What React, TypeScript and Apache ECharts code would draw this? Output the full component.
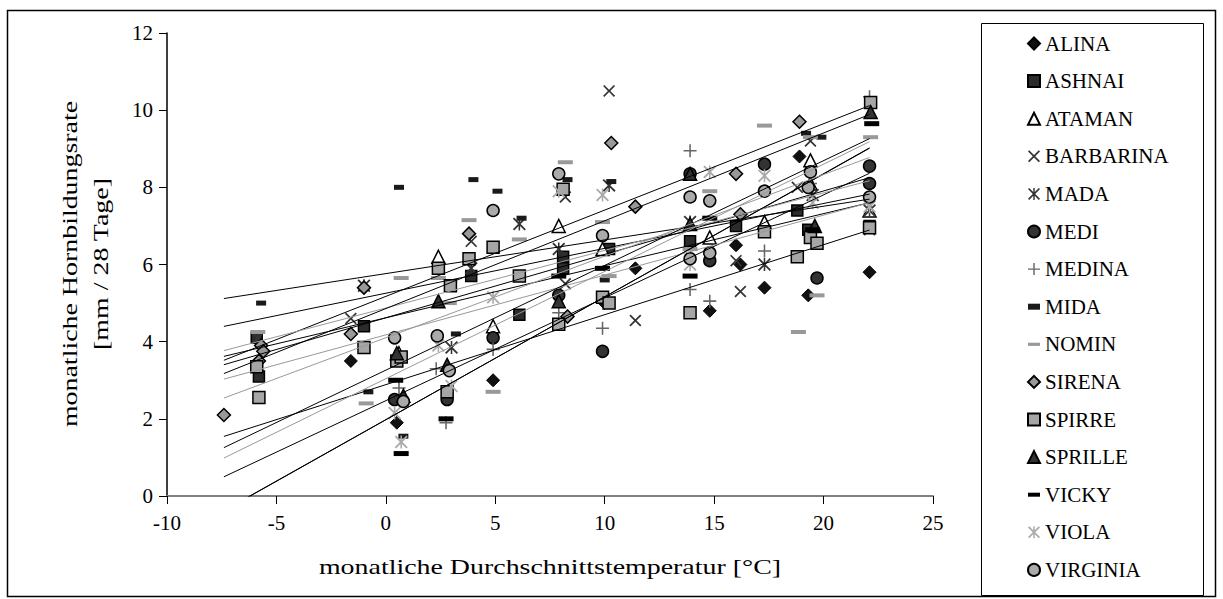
import React, { useEffect, useRef } from "react";
import * as echarts from "echarts";

// ---- data: [monthly mean temperature °C, horn growth rate mm / 28 days]
const ALINA = [[-1.6,3.5],[0.5,1.9],[4.9,3.0],[10.0,5.0],[11.4,5.9],[14.8,4.8],[16.0,6.5],[16.2,6.0],[17.3,5.4],[18.9,8.8],[19.3,5.2],[22.1,5.8]];
const ASHNAI = [[-5.9,4.1],[-5.8,3.1],[-1.0,4.4],[3.9,5.7],[6.1,4.7],[8.1,6.2],[8.1,5.9],[10.2,6.4],[13.9,6.6],[16.0,7.0],[18.8,7.4],[19.3,6.9],[22.1,7.0]];
const ATAMAN = [[0.6,3.7],[2.4,6.2],[4.9,4.4],[7.9,7.0],[9.9,6.4],[14.8,6.7],[17.3,7.1],[19.4,8.7],[19.4,8.1],[22.1,7.4]];
const BARBARINA = [[-1.6,4.6],[3.9,6.6],[8.2,7.75],[8.2,5.5],[10.2,10.5],[11.4,4.55],[16.0,6.1],[16.2,5.3],[18.8,8.0],[19.4,9.2],[22.1,6.9]];
const MADA = [[-5.85,4.1],[-1.0,5.45],[3.0,3.85],[3.9,5.9],[6.1,7.05],[7.9,6.4],[10.2,8.05],[13.9,7.1],[17.3,6.0],[19.5,7.8],[22.1,7.4]];
const MEDI = [[0.4,2.5],[2.8,2.5],[4.9,4.1],[7.9,5.2],[9.9,3.75],[13.9,8.35],[14.8,6.1],[17.3,8.6],[19.7,5.65],[22.1,8.55],[22.1,8.1]];
const MEDINA = [[0.6,2.8],[2.3,3.3],[2.75,1.9],[4.9,3.8],[7.9,4.75],[9.9,4.35],[13.9,8.95],[13.9,5.35],[14.8,5.05],[17.3,6.35],[19.4,8.1],[22.1,10.35]];
const MIDA = [[-5.7,5.0],[-0.8,2.7],[0.6,8.0],[0.8,1.55],[3.2,4.2],[4.0,8.2],[5.1,7.9],[6.2,7.2],[8.3,8.2],[10.3,8.15],[10.0,5.6],[19.2,9.4],[19.9,9.3]];
const NOMIN = [[-5.85,4.25],[-0.9,2.4],[0.7,5.65],[2.4,5.65],[2.9,5.0],[3.8,7.15],[4.9,2.7],[6.1,6.65],[8.2,8.65],[9.9,7.1],[10.2,5.7],[13.9,6.4],[14.8,7.9],[17.3,9.6],[18.85,4.25],[19.4,9.3],[19.7,5.2],[22.15,9.3]];
const SIRENA = [[-7.4,2.1],[-5.7,3.9],[-5.6,3.75],[-5.8,3.5],[-1.6,4.2],[-1.0,5.4],[3.8,6.8],[8.3,4.65],[10.3,9.15],[11.4,7.5],[16.0,8.35],[16.2,7.3],[18.9,9.7]];
const SPIRRE = [[-5.9,3.35],[-5.8,2.55],[-1.0,3.85],[0.5,3.5],[0.7,3.6],[2.4,5.9],[2.95,5.45],[2.8,2.7],[3.8,6.15],[4.9,6.45],[6.1,5.7],[8.1,7.95],[7.9,4.45],[9.9,5.15],[10.2,5.0],[13.9,4.75],[17.3,6.85],[18.8,6.2],[19.4,6.7],[19.7,6.55],[22.15,10.2],[22.1,6.95]];
const SPRILLE = [[0.5,3.7],[0.8,2.6],[2.4,5.05],[2.8,3.4],[7.9,5.05],[13.9,8.35],[13.9,7.05],[19.6,7.0],[22.15,9.95]];
const VICKY = [[0.45,3.0],[0.7,1.1],[2.75,2.0],[7.9,5.7],[9.9,5.9],[13.9,5.7],[14.8,7.2],[19.5,6.9],[22.2,9.65]];
const VIOLA = [[0.4,2.15],[0.7,1.4],[2.4,3.9],[3.0,2.85],[4.9,5.15],[7.9,7.9],[9.9,7.8],[13.9,6.0],[14.8,8.4],[17.3,8.3],[19.5,7.6],[22.1,7.5]];
const VIRGINIA = [[0.4,4.1],[0.8,2.45],[2.35,4.15],[2.9,3.25],[4.9,7.4],[7.9,8.35],[9.9,6.75],[13.9,7.75],[14.8,7.65],[13.9,6.15],[14.8,6.3],[17.3,7.9],[19.3,8.0],[19.4,8.4],[22.1,7.75]];

const SERIES_NAMES = ["ALINA","ASHNAI","ATAMAN","BARBARINA","MADA","MEDI","MEDINA","MIDA","NOMIN","SIRENA","SPIRRE","SPRILLE","VICKY","VIOLA","VIRGINIA"];
const SERIES_DATA = [ALINA, ASHNAI, ATAMAN, BARBARINA, MADA, MEDI, MEDINA, MIDA, NOMIN, SIRENA, SPIRRE, SPRILLE, VICKY, VIOLA, VIRGINIA];
const TREND_RANGE = [-7.4, 22.1];
const X_TICKS = { min: -10, max: 25, step: 5 };
const Y_TICKS = { min: 0, max: 12, step: 2 };

// ---- styles
const X_PATH = "path://M1,0 L5,4 L9,0 L10,1 L6,5 L10,9 L9,10 L5,6 L1,10 L0,9 L4,5 L0,1 Z";
const STAR_PATH = "path://M1,0 L5,4 L9,0 L10,1 L6,5 L10,9 L9,10 L5,6 L1,10 L0,9 L4,5 L0,1 Z M4.4,0 L5.6,0 L5.6,10 L4.4,10 Z";
const PLUS_PATH = "path://M4.4,0 L5.6,0 L5.6,4.4 L10,4.4 L10,5.6 L5.6,5.6 L5.6,10 L4.4,10 L4.4,5.6 L0,5.6 L0,4.4 L4.4,4.4 Z";
const SHORT_BAR = "path://M0,0 L10,0 L10,5 L0,5 Z";
const LONG_BAR = "path://M0,0 L15,0 L15,4 L0,4 Z";
const THICK_BAR = "path://M0,0 L15,0 L15,5 L0,5 Z";

const STYLES: any[] = [
  { symbol: "diamond", size: 13, fill: "#111", border: "#000", bw: 1, icon: "diamond", line: "#000" },
  { symbol: "rect", size: 11, fill: "#2b2b2b", border: "#000", bw: 1.5, icon: "rect", line: "#000" },
  { symbol: "triangle", size: 13, fill: "#fff", border: "#000", bw: 1.5, icon: "triangle", line: "#000" },
  { symbol: X_PATH, size: 12, fill: "#333", border: null, bw: 0, icon: X_PATH, line: "#000" },
  { symbol: STAR_PATH, size: 13, fill: "#333", border: null, bw: 0, icon: STAR_PATH, line: "#000" },
  { symbol: "circle", size: 12, fill: "#333", border: "#000", bw: 1.5, icon: "circle", line: "#000" },
  { symbol: PLUS_PATH, size: 13, fill: "#666", border: null, bw: 0, icon: PLUS_PATH, line: "#000" },
  { symbol: "rect", size: [10, 5], fill: "#1a1a1a", border: null, bw: 0, icon: SHORT_BAR, line: "#000" },
  { symbol: "rect", size: [15, 4], fill: "#999", border: null, bw: 0, icon: LONG_BAR, line: "#999" },
  { symbol: "diamond", size: 13, fill: "#999", border: "#000", bw: 1.5, icon: "diamond", line: "#000" },
  { symbol: "rect", size: 12, fill: "#a6a6a6", border: "#000", bw: 1.5, icon: "rect", line: "#999" },
  { symbol: "triangle", size: 13, fill: "#333", border: "#000", bw: 1.5, icon: "triangle", line: "#000" },
  { symbol: "rect", size: [15, 5], fill: "#000", border: null, bw: 0, icon: THICK_BAR, line: "#000" },
  { symbol: STAR_PATH, size: 13, fill: "#aaa", border: null, bw: 0, icon: STAR_PATH, line: "#999" },
  { symbol: "circle", size: 12, fill: "#aaa", border: "#000", bw: 1.5, icon: "circle", line: "#999" },
];

const FONT = '"Liberation Serif", "Times New Roman", serif';

function fit(data: number[][]) {
  const n = data.length;
  let sx = 0, sy = 0, sxx = 0, sxy = 0;
  data.forEach(([x, y]) => { sx += x; sy += y; sxx += x * x; sxy += x * y; });
  const b = (n * sxy - sx * sy) / (n * sxx - sx * sx);
  const a = (sy - b * sx) / n;
  return TREND_RANGE.map((x) => [x, a + b * x]);
}

export default function App() {
  const ref = useRef<HTMLDivElement>(null);
  useEffect(() => {
    if (!ref.current) return;
    const chart = echarts.init(ref.current, null, { renderer: "svg" });
    const scatter = SERIES_NAMES.map((name, i) => {
      const s = STYLES[i];
      return {
        name,
        type: "scatter",
        data: SERIES_DATA[i],
        symbol: s.symbol,
        symbolSize: s.size,
        itemStyle: { color: s.fill, borderColor: s.border || s.fill, borderWidth: s.bw, opacity: 1 },
      };
    });
    const trends = SERIES_NAMES.map((name, i) => ({
      name: name + " Trend",
      type: "line",
      data: fit(SERIES_DATA[i]),
      symbol: "none",
      lineStyle: { color: STYLES[i].line, width: 1 },
    }));
    chart.setOption({
      animation: false,
      textStyle: { fontFamily: FONT },
      grid: { left: 167, top: 33, width: 766, height: 463 },
      xAxis: {
        type: "value",
        min: X_TICKS.min,
        max: X_TICKS.max,
        interval: X_TICKS.step,
        axisLine: { show: true, onZero: false, lineStyle: { color: "#808080", width: 2 } },
        axisTick: { show: true, length: 8, lineStyle: { color: "#000", width: 1 } },
        axisLabel: { color: "#000", fontSize: 21, fontFamily: FONT, margin: 16 },
        splitLine: { show: false },
      },
      yAxis: {
        type: "value",
        min: Y_TICKS.min,
        max: Y_TICKS.max,
        interval: Y_TICKS.step,
        axisLine: { show: true, onZero: false, lineStyle: { color: "#000", width: 1.5 } },
        axisTick: { show: true, length: 8, lineStyle: { color: "#000", width: 1 } },
        axisLabel: { color: "#000", fontSize: 21, fontFamily: FONT, margin: 14 },
        splitLine: { show: false },
      },
      legend: {
        orient: "vertical",
        left: 1022,
        top: 28,
        itemWidth: 12,
        itemHeight: 12,
        itemGap: 16.6,
        textStyle: { fontSize: 21, lineHeight: 21, color: "#000", fontFamily: FONT },
        data: SERIES_NAMES.map((name, i) => ({ name, icon: STYLES[i].icon })),
      },
      graphic: [
        { type: "rect", shape: { x: 7.5, y: 10.5, width: 1208, height: 586 }, style: { fill: "none", stroke: "#000", lineWidth: 1.5 }, silent: true },
        { type: "rect", shape: { x: 981.5, y: 23.5, width: 222, height: 572 }, style: { fill: "none", stroke: "#000", lineWidth: 1 }, silent: true },
        { type: "text", x: 550, y: 567, scaleX: 1.33, style: { text: "monatliche Durchschnittstemperatur [°C]", font: '21px "Liberation Serif"', fill: "#000", align: "center", verticalAlign: "middle" } },
        { type: "text", x: 70, y: 264, rotation: Math.PI / 2, scaleX: 1.33, style: { text: "monatliche Hornbildungsrate", font: '21px "Liberation Serif"', fill: "#000", align: "center", verticalAlign: "middle" } },
        { type: "text", x: 101, y: 264, rotation: Math.PI / 2, scaleX: 1.33, style: { text: "[mm / 28 Tage]", font: '21px "Liberation Serif"', fill: "#000", align: "center", verticalAlign: "middle" } },
      ],
      series: [...scatter, ...trends],
    });
    return () => chart.dispose();
  }, []);
  return <div ref={ref} style={{ position: "absolute", left: 0, top: 0, width: 1223, height: 599, background: "#fff" }} />;
}
